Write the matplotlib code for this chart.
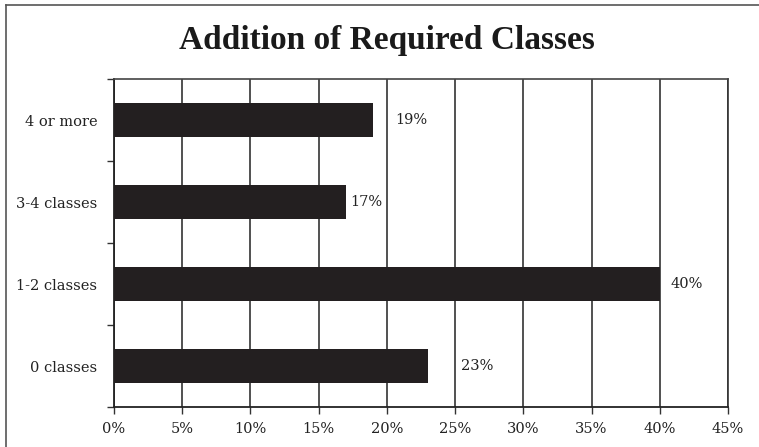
import matplotlib
matplotlib.use("Agg")
import matplotlib.pyplot as plt
from matplotlib.lines import Line2D
import numpy as np

categories = ["0 classes", "1-2 classes", "3-4 classes", "4 or more"]
values = [23, 40, 17, 19]
labels = ["23%", "40%", "17%", "19%"]
label_offsets = [2.4, 0.8, 0.3, 1.6]  # style: gap between bar end and label, in %
xticks = [0, 5, 10, 15, 20, 25, 30, 35, 40, 45]

plt.rcParams['font.family'] = ['DejaVu Serif']
FS = 10.5
TXT = "#222222"

fig = plt.figure(figsize=(7.59, 4.47), dpi=100)
ax = fig.add_axes([114/759, 1-407/447, (728-114)/759, (407-79)/447])

y = np.arange(len(categories))
ax.barh(y, values, height=0.42, color="#231f20", zorder=3)
for yi, v, lab, off in zip(y, values, labels, label_offsets):
    ax.text(v + off, yi, lab, va="center", ha="left", fontsize=FS, color=TXT)

ax.set_xlim(0, 45)
ax.set_ylim(-0.5, len(categories) - 0.5)
ax.set_xticks(xticks)
ax.set_xticklabels([f"{t}%" for t in xticks], fontsize=FS, color=TXT)
ax.set_yticks(y)
ax.set_yticklabels(categories, fontsize=FS, color=TXT)
ax.tick_params(axis="y", length=0, pad=12)
ax.set_yticks(np.arange(-0.5, len(categories)), minor=True)
ax.tick_params(axis="y", which="minor", length=5, width=1, color="#333333")
ax.tick_params(axis="x", length=5, width=1, color="#333333", pad=6)
ax.grid(axis="x", color="#333333", linewidth=1.2, zorder=0)
for s in ["left", "bottom"]:
    ax.spines[s].set_color("#222222")
    ax.spines[s].set_linewidth(1.3)
ax.spines["top"].set_color("#444444")
ax.spines["right"].set_color("#333333")
ax.spines["top"].set_linewidth(1.2)
ax.spines["right"].set_linewidth(1.2)

fig.text(387/759, 1-40/447, "Addition of Required Classes", ha="center", va="center",
         fontsize=24, fontweight="bold", color="#1a1a1a", family="Liberation Serif")

# figure border (top and left only visible)
fig.add_artist(Line2D([6/759, 1], [1-5/447, 1-5/447], transform=fig.transFigure, color="#555555", lw=1.2))
fig.add_artist(Line2D([6/759, 6/759], [0, 1-5/447], transform=fig.transFigure, color="#555555", lw=1.2))

fig.savefig("out.png", dpi=100)
